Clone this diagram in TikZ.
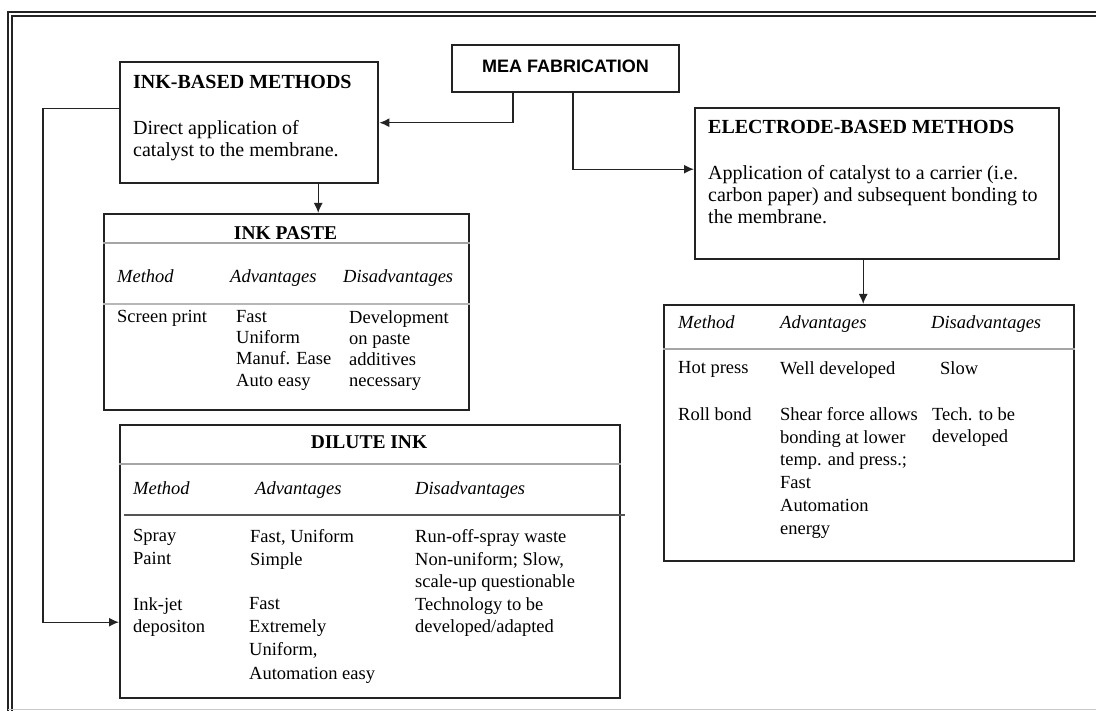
\documentclass[tikz,border=0pt]{standalone}
\usepackage{fontspec}
\setmainfont{Liberation Serif}
\newfontfamily\meafont{Liberation Sans}
\usetikzlibrary{arrows.meta,calc}
\definecolor{FrameGray}{RGB}{35,35,35}
\definecolor{RuleGray}{RGB}{165,165,165}
\definecolor{DarkRule}{RGB}{85,85,85}
\tikzset{
  panel/.style={
    draw=FrameGray,
    line width=2.4pt,
    anchor=north west,
    inner sep=0pt
  },
  boxtitle/.style={
    anchor=north west,
    inner sep=0pt,
    font=\fontsize{20}{22}\selectfont\bfseries
  },
  boxtext/.style={
    anchor=north west,
    inner sep=0pt,
    align=left,
    font=\fontsize{20}{22}\selectfont
  },
  tabtext/.style={
    anchor=north west,
    inner sep=0pt,
    align=left,
    font=\fontsize{18.5}{22.8}\selectfont
  },
  tabhead/.style={
    tabtext,
    font=\fontsize{18.5}{22.8}\selectfont\itshape
  },
  rule/.style={draw=RuleGray,line width=1.6pt},
  framepen/.style={draw=FrameGray,line width=1.3pt},
  arrow/.style={-{Latex[length=10pt,width=9pt]},line width=1.3pt,draw=FrameGray}
}

\begin{document}
\begin{tikzpicture}[x=1pt,y=-1pt]
    \useasboundingbox (0,0) rectangle (1096,711);
    % outer frame
    \draw[framepen] (8,711) -- (8,12) -- (1096,12);
    \draw[framepen] (12,711) -- (12,16) -- (1096,16);
    \draw[RuleGray!60,line width=1pt] (8,709) -- (1096,709);

    % boxes
    \node[panel,anchor=center,minimum width=227pt,minimum height=47pt,text depth=4pt,
      font=\meafont\bfseries\fontsize{18}{22}\selectfont] (mea) at (565.5,68.5) {MEA FABRICATION};
    \node[panel,minimum width=258pt,minimum height=121pt] (inkbased) at (119,61) {};
    \node[panel,minimum width=364pt,minimum height=151pt] (electrode) at (694,107) {};
    \node[panel,minimum width=365pt,minimum height=196pt] (inkpaste) at (103,213) {};
    \node[panel,minimum width=500pt,minimum height=273pt] (dilute) at (119,424) {};
    \node[panel,minimum width=410pt,minimum height=256pt] (electab) at (663,304) {};

    % ink-based methods
    \node[boxtitle] (inkbasedTitle) at (133,75) {INK-BASED METHODS};
    \node[boxtext] (inkbasedText) at (133,120) {Direct application of\\catalyst to the membrane.};

    % electrode-based methods
    \node[boxtitle] (electrodeTitle) at (708,120) {ELECTRODE-BASED METHODS};
    \node[boxtext] (electrodeText) at (708,165) {Application of catalyst to a carrier (i.e.\\carbon paper) and subsequent bonding to\\the membrane.};

    % ink paste
    \node[boxtitle,anchor=north,font=\fontsize{19.5}{22}\selectfont\bfseries] (inkpasteTitle) at (285.5,226) {INK PASTE};
    \draw[rule] (inkpaste.west |- 0,243) -- (inkpaste.east |- 0,243);
    \draw[rule,draw=RuleGray!80] (inkpaste.west |- 0,304) -- (inkpaste.east |- 0,304);
    \node[tabhead] (pasteMethod) at (117,269) {Method};
    \node[tabhead] (pasteAdv) at (230,269) {Advantages};
    \node[tabhead] (pasteDis) at (343,269) {Disadvantages};
    \node[tabtext] (pasteScreen) at (117,310) {Screen print};
    \node[tabtext,font=\fontsize{18.5}{21.3}\selectfont] (pasteAdvList) at (236,310) {Fast\\Uniform\\Manuf. Ease\\Auto easy};
    \node[tabtext,font=\fontsize{18.5}{21.3}\selectfont] (pasteDisList) at (349,310) {Development\\on paste\\additives\\necessary};

    % dilute ink
    \node[boxtitle,anchor=north,font=\fontsize{19.5}{22}\selectfont\bfseries] (diluteTitle) at (369,436) {DILUTE INK};
    \draw[rule] (dilute.west |- 0,464) -- (dilute.east |- 0,464);
    \draw[DarkRule,line width=1.4pt] (124,515) -- (625,515);
    \node[tabhead] (diluteMethod) at (133,481) {Method};
    \node[tabhead] (diluteAdv) at (255,481) {Advantages};
    \node[tabhead] (diluteDis) at (415,481) {Disadvantages};
    \node[tabtext] (sprayMethod) at (133,529) {Spray\\Paint};
    \node[tabtext] (sprayAdv) at (250,529) {Fast, Uniform\\Simple};
    \node[tabtext] (sprayDis) at (415,529) {Run-off-spray waste\\Non-uniform; Slow,\\scale-up questionable};
    \node[tabtext] (jetMethod) at (133,597) {Ink-jet\\depositon};
    \node[tabtext,font=\fontsize{18.5}{23.3}\selectfont] (jetAdv) at (249,597) {Fast\\Extremely\\Uniform,\\Automation easy};
    \node[tabtext] (jetDis) at (415,597) {Technology to be\\developed/adapted};

    % electrode table
    \draw[rule] (electab.west |- 0,349) -- (electab.east |- 0,349);
    \node[tabhead] (elecMethod) at (678,315) {Method};
    \node[tabhead] (elecAdv) at (780,315) {Advantages};
    \node[tabhead] (elecDis) at (931,315) {Disadvantages};
    \node[tabtext] (hotMethod) at (678,361) {Hot press};
    \node[tabtext] (hotAdv) at (780,361) {Well developed};
    \node[tabtext] (hotDis) at (940,361) {Slow};
    \node[tabtext] (rollMethod) at (678,407) {Roll bond};
    \node[tabtext] (rollAdv) at (780,407) {Shear force allows\\bonding at lower\\temp. and press.;\\Fast\\Automation\\energy};
    \node[tabtext] (rollDis) at (932,407) {Tech. to be\\developed};

    % connectors
    \path ([xshift=69pt]inkbased.south) coordinate (inkDown);
    \path ([xshift=-14pt]electrode.south) coordinate (elecDown);
    \coordinate (leftRail) at (43,300);
    \draw[arrow] ([xshift=-52.5pt]mea.south) |- (inkbased.east);
    \draw[arrow] ([xshift=7.5pt]mea.south) |- ([yshift=14.5pt]electrode.west);
    \draw[arrow] (inkDown) -- (inkDown |- inkpaste.north);
    \draw[arrow] (elecDown) -- (elecDown |- electab.north);
    \draw[arrow] ([yshift=14.5pt]inkbased.west) -| (leftRail) |- ([yshift=-60.5pt]dilute.west);
  \end{tikzpicture}
\end{document}
